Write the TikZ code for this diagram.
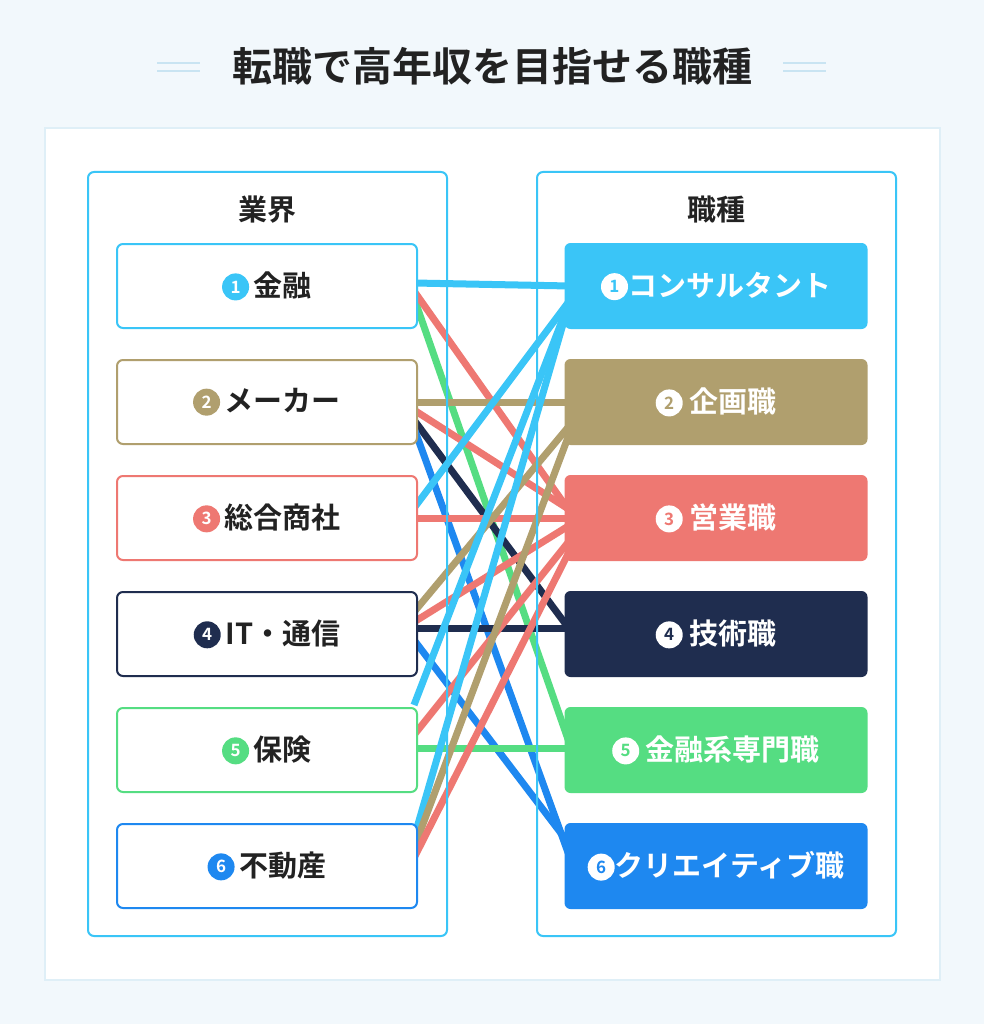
\documentclass[tikz,border=0pt]{standalone}
\usepackage{fontspec}
\setmainfont{Noto Sans CJK JP Bold}
\definecolor{bgc}{HTML}{F2F8FC}
\definecolor{cy}{HTML}{3AC5F7}
\definecolor{tn}{HTML}{B09F6E}
\definecolor{rd}{HTML}{EE7872}
\definecolor{nv}{HTML}{1F2D4F}
\definecolor{gr}{HTML}{55DD82}
\definecolor{bl}{HTML}{1E88F0}
\definecolor{tx}{HTML}{222222}
\definecolor{pl}{HTML}{C9E4F2}
\begin{document}
\begin{tikzpicture}[x=1pt,y=-1pt,
  lbox/.style={draw=#1,line width=2pt,fill=white,rounded corners=6pt,minimum width=300pt,minimum height=84pt,font=\fontsize{29}{32}\selectfont,text=tx},
  rbox/.style={fill=#1,rounded corners=6pt,minimum width=303pt,minimum height=86pt,font=\fontsize{29}{32}\selectfont,text=white},
  conn/.style={line width=7pt,draw=#1},
  frame/.style={draw=cy,line width=2pt,rounded corners=6pt}]
\fill[bgc] (0,0) rectangle (984,1024);
\useasboundingbox (0,0) rectangle (984,1024);
\fill[white,draw=pl!60,line width=1.5pt] (45,128) rectangle (940,980);
\node[font=\fontsize{40}{44}\selectfont,text=tx] (title) at (492,66) {転職で高年収を目指せる職種};
\foreach \y in {63,71}{\draw[pl,line width=2.5pt] (157,\y) -- (200,\y); \draw[pl,line width=2.5pt] (783,\y) -- (826,\y);}
\newcommand\lnum[2]{\tikz[baseline=-0.6ex]\node[circle,fill=#1,text=white,inner sep=0pt,minimum size=27pt,font=\fontsize{17}{17}\selectfont]{#2};\,}
\newcommand\rnum[2]{\tikz[baseline=-0.6ex]\node[circle,fill=white,text=#1,inner sep=0pt,minimum size=27pt,font=\fontsize{17}{17}\selectfont]{#2};}
% connectors
\foreach \ly/\ry/\c in {283/286/cy, 298/745/gr, 291/512/rd,
  402/402/tn, 410/510/rd, 420/630/nv, 428/858/bl,
  508/300/cy, 518/518/rd,
  612/425/tn, 622/525/rd, 628/628/nv, 640/845/bl,
  705/300/cy, 735/540/rd, 748/748/gr,
  838/300/cy, 848/432/tn, 858/550/rd}
  {\draw[conn=\c] (414,\ly) -- (570,\ry);}
\draw[frame] (88,172) rectangle (447,936);
\draw[frame] (537,172) rectangle (896,936);
\node[font=\fontsize{29}{32}\selectfont,text=tx] (h1) at (267,210) {業界};
\node[font=\fontsize{29}{32}\selectfont,text=tx] (h2) at (716,210) {職種};
\node[lbox=cy] (l1) at (267,286) {\lnum{cy}{1}金融};
\node[lbox=tn] (l2) at (267,402) {\lnum{tn}{2}メーカー};
\node[lbox=rd] (l3) at (267,518) {\lnum{rd}{3}総合商社};
\node[lbox=nv] (l4) at (267,634) {\lnum{nv}{4}IT・通信};
\node[lbox=gr] (l5) at (267,750) {\lnum{gr}{5}保険};
\node[lbox=bl] (l6) at (267,866) {\lnum{bl}{6}不動産};
\node[rbox=cy] (r1) at (716,286) {\rnum{cy}{1}コンサルタント};
\node[rbox=tn] (r2) at (716,402) {\rnum{tn}{2} 企画職};
\node[rbox=rd] (r3) at (716,518) {\rnum{rd}{3} 営業職};
\node[rbox=nv] (r4) at (716,634) {\rnum{nv}{4} 技術職};
\node[rbox=gr] (r5) at (716,750) {\rnum{gr}{5} 金融系専門職};
\node[rbox=bl] (r6) at (716,866) {\rnum{bl}{6}クリエイティブ職};
\end{tikzpicture}
\end{document}
